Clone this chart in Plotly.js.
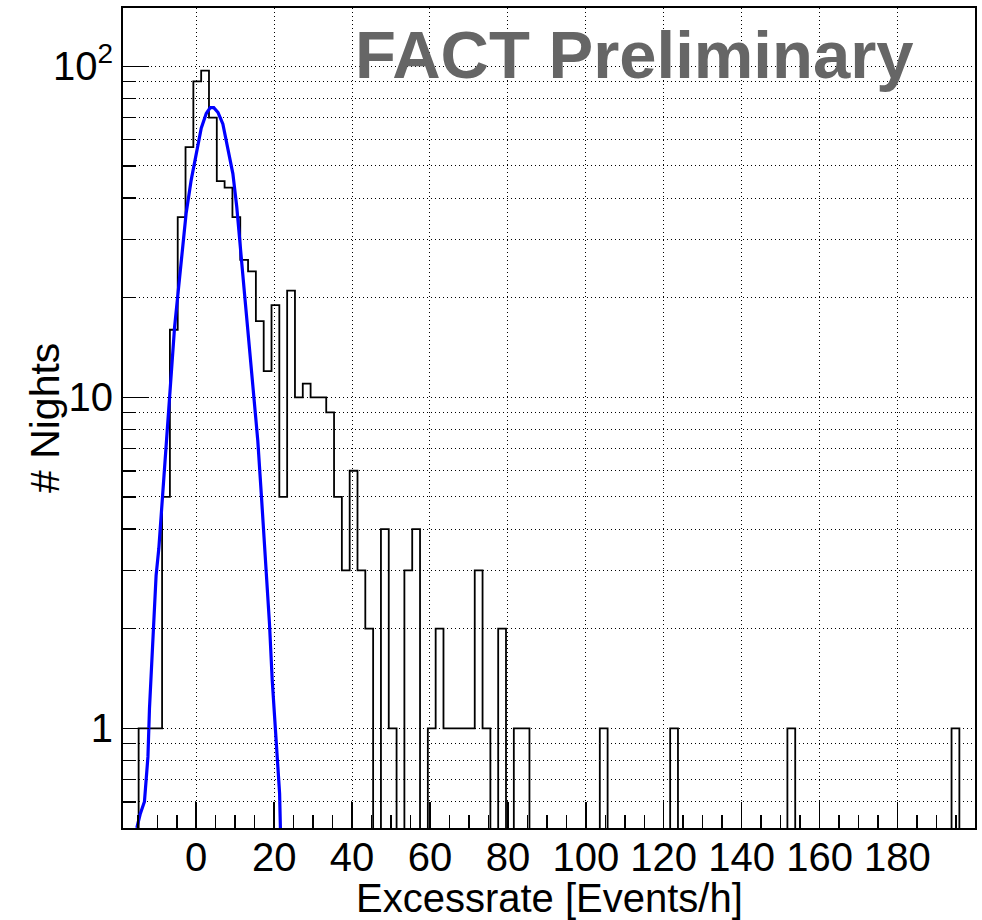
<!DOCTYPE html>
<html><head><meta charset="utf-8">
<script src="https://cdn.plot.ly/plotly-3.0.1.min.js"></script>
<style>html,body{margin:0;padding:0;background:#fff}#chart{width:982px;height:920px}</style>
</head><body><div id="chart"></div>
<script>
// Histogram binning (x range of the histogram, number of bins follows from counts)
const histRange = [-18.8, 199.9];
// # Nights per bin
const nightCounts = [
  0,0,1,1,1,5,16,35,57,90,
  97,70,45,43,35,26,24,17,12,19,
  5,21,10,11,10,10,9,5,3,6,
  3,2,0,4,1,0,3,4,0,1,
  2,1,1,1,1,3,1,0,2,0,
  1,1,0,0,0,0,0,0,0,0,
  0,1,0,0,0,0,0,0,0,0,
  1,0,0,0,0,0,0,0,0,0,
  0,0,0,0,0,1,0,0,0,0,
  0,0,0,0,0,0,0,0,0,0,
  0,0,0,0,0,0,1,0,0
];
// Gaussian fit curve points
const fitX = [-15.25,-14.4,-13.3,-12.4,-12.0,-11.1,-10.3,-9.6,-9.0,-8.1,-7.3,-6.4,-5.56,-4.7,-3.85,-2.6,-1.3,0.17,1.28,2.57,3.6,4.5,5.6,6.83,8.1,9.4,10.4,11.55,12.4,13.25,14.5,15.8,16.7,17.5,18.0,18.8,19.5,20.3,20.7,21.4,21.6];
const fitY = [0.50,0.55,0.60,0.82,1.15,1.85,2.9,3.5,4.45,6.2,8.3,11.7,16.3,20.5,25.9,35.9,45.3,55.7,65,72,75,75,72.5,67,57,47.4,37.6,27.2,20.5,15.9,11.0,7.4,5.1,3.6,3.0,2.07,1.40,1.01,0.82,0.635,0.50];
// Y tick labels
const yTickVals = [1, 10, 100];
const yTickText = ['1', '10', '10<sup>2</sup>'];
const xTitle = 'Excessrate [Events/h]';
const yTitle = '# Nights';
const stampText = 'FACT Preliminary';

const nBins = nightCounts.length;
const binW = (histRange[1] - histRange[0]) / nBins;
const edges = [];
for (let k = 0; k <= nBins; k++) edges.push(histRange[0] + k * binW);
const FLOOR = 0.01; // below visible range: empty bins drop to the frame bottom
const stepY = nightCounts.map(v => v > 0 ? v : FLOOR);
stepY.push(stepY[stepY.length - 1]);

const FONT = 'Liberation Sans, Arial, Helvetica, sans-serif';
const gridDash = '1px,3px';

const traces = [
  {x: edges, y: stepY, type: 'scatter', mode: 'lines', line: {shape: 'hv', color: '#000', width: 1.8}, hoverinfo: 'skip'},
  {x: fitX, y: fitY, type: 'scatter', mode: 'lines', line: {color: '#0000ff', width: 3.2}, hoverinfo: 'skip'}
];

const layout = {
  width: 982, height: 920,
  margin: {l: 123, r: 7, t: 8, b: 92},
  paper_bgcolor: '#fff', plot_bgcolor: '#fff',
  showlegend: false,
  font: {family: FONT, color: '#000'},
  xaxis: {
    range: histRange, tickmode: 'linear', tick0: 0, dtick: 20,
    ticks: 'inside', ticklen: 26, tickwidth: 1.5, tickcolor: '#000',
    showgrid: true, gridcolor: '#000', griddash: gridDash, gridwidth: 1,
    zeroline: false, showline: true, linecolor: '#000', linewidth: 2, mirror: true,
    minor: {tick0: 0, dtick: 5, ticks: 'inside', ticklen: 13, tickwidth: 1.5, tickcolor: '#000', showgrid: false},
    tickfont: {family: FONT, size: 40, color: '#000'},
    ticklabelstandoff: -7,
    automargin: false
  },
  yaxis: {
    type: 'log', range: [Math.log10(0.5), Math.log10(150)],
    tickmode: 'array', tickvals: yTickVals, ticktext: yTickText,
    ticks: 'inside', ticklen: 26, tickwidth: 1.5, tickcolor: '#000',
    showgrid: true, gridcolor: '#000', griddash: gridDash, gridwidth: 1,
    zeroline: false, showline: true, linecolor: '#000', linewidth: 2, mirror: true,
    minor: {dtick: 'D1', ticks: 'inside', ticklen: 13, tickwidth: 1.5, tickcolor: '#000', showgrid: true, gridcolor: '#000', griddash: gridDash, gridwidth: 1},
    tickfont: {family: FONT, size: 40, color: '#000'},
    automargin: false
  },
  annotations: [
    {
      text: stampText, xref: 'paper', yref: 'paper', x: 0.27, y: 0.943,
      xanchor: 'left', yanchor: 'middle', showarrow: false,
      font: {family: FONT, size: 67, color: '#666666', weight: 700}
    },
    {
      text: xTitle, xref: 'paper', yref: 'paper', x: 0.5, y: -0.0852,
      xanchor: 'center', yanchor: 'middle', showarrow: false,
      font: {family: FONT, size: 40, color: '#000'}
    },
    {
      text: yTitle, xref: 'paper', yref: 'paper', x: -0.0915, y: 0.5,
      xanchor: 'center', yanchor: 'middle', showarrow: false, textangle: -90,
      font: {family: FONT, size: 41, color: '#000'}
    }
  ]
};

Plotly.newPlot('chart', traces, layout, {staticPlot: true, displayModeBar: false});
</script>
</body></html>
